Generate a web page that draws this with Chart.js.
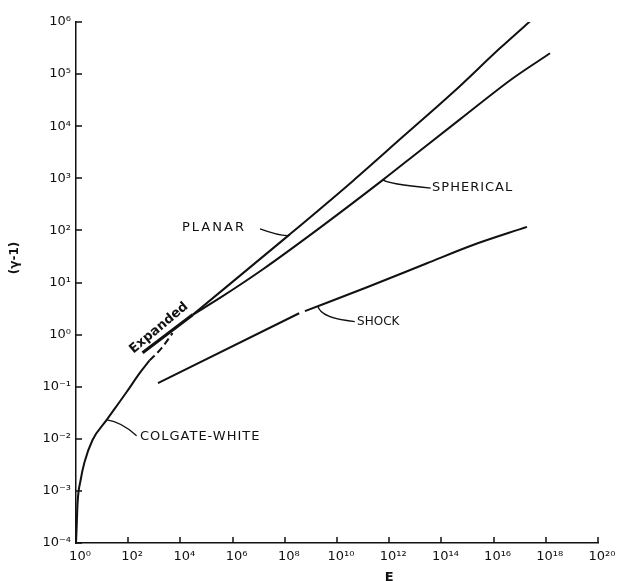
<!DOCTYPE html>
<html>
<head>
<meta charset="utf-8">
<script src="https://cdn.jsdelivr.net/npm/chart.js@4.4.0/dist/chart.umd.min.js"></script>
<style>
  html,body{margin:0;padding:0;background:#fff}
  canvas{display:block}
</style>
</head>
<body>
<canvas id="chart" width="628" height="581"></canvas>
<script>
// axis ticks
const xTicks = [1e0,1e2,1e4,1e6,1e8,1e10,1e12,1e14,1e16,1e18,1e20];
const xTickLabels = ['10⁰','10²','10⁴','10⁶','10⁸','10¹⁰','10¹²','10¹⁴','10¹⁶','10¹⁸','10²⁰'];
const yTicks = [1e-4,1e-3,1e-2,1e-1,1e0,1e1,1e2,1e3,1e4,1e5,1e6];
const yTickLabels = ['10⁻⁴','10⁻³','10⁻²','10⁻¹','10⁰','10¹','10²','10³','10⁴','10⁵','10⁶'];

// curves (E, gamma-1)
const colgateE = [1, 1.05, 1.15, 1.5, 2.1, 4.3, 15, 87, 270, 660];
const colgateG = [1e-4, 1.8e-4, 5.9e-4, 1.6e-3, 3.5e-3, 9.5e-3, 0.023, 0.079, 0.18, 0.32];
const colgateDashE = [660, 1900, 5000];
const colgateDashG = [0.32, 0.55, 1.07];
const expandedE = [355, 2.95e4];
const expandedG = [0.45, 2.4];
const planarE = [2.95e4, 1.51e8, 4.07e10, 3.39e12, 2.82e14, 1.78e16, 3.89e17];
const planarG = [2.4, 83, 891, 6310, 44700, 3.16e5, 1.26e6];
const sphericalE = [2.95e4, 3.16e5, 1.41e7, 2.19e9, 5.75e11, 1.51e13, 5.13e14, 5.5e16, 1.45e18];
const sphericalG = [2.4, 5.01, 17.8, 112, 933, 3390, 13500, 83200, 2.51e5];
const shockE = [1380, 3.55e8, null, 5.9e8, 1.41e11, 2.8e13, 1.62e15, 1.9e17];
const shockG = [0.117, 2.57, null, 2.82, 8.1, 23.4, 52.5, 117];

const pts = (xs, ys) => xs.map((x,i)=>({x:x, y:ys[i]}));

// text labels, anchored in data units
const notes = [
  {text:'PLANAR', e:1.15e4, g:112, size:13, spacing:2},
  {text:'SPHERICAL', e:4.4e13, g:676, size:13, spacing:1},
  {text:'SHOCK', e:5.9e10, g:1.74, size:12, spacing:0},
  {text:'COLGATE-WHITE', e:282, g:0.0112, size:13, spacing:1}
];
// leader lines: from point on curve to label
const leaders = [
  {from:[1.45e8, 80], to:[1.12e7, 107], bend:[-8, 1]},
  {from:[5.75e11, 933], to:[3.9e13, 650], bend:[5, 4]},
  {from:[1.86e9, 3.5], to:[4.8e10, 1.78], bend:[3, 12]},
  {from:[15.5, 0.023], to:[210, 0.0115], bend:[14, 2]}
];

const ink = '#111';

const decorations = {
  id:'decorations',
  afterDatasetsDraw(chart){
    const {ctx, chartArea:a, scales:{x, y}} = chart;
    ctx.save();
    ctx.strokeStyle = ink; ctx.fillStyle = ink;
    // inward tick marks
    ctx.lineWidth = 1.5;
    ctx.beginPath();
    xTicks.forEach(v=>{ const px = Math.round(x.getPixelForValue(v)); ctx.moveTo(px, a.bottom); ctx.lineTo(px, a.bottom-6); });
    yTicks.forEach(v=>{ const py = Math.round(y.getPixelForValue(v)); ctx.moveTo(a.left, py); ctx.lineTo(a.left+6, py); });
    ctx.stroke();

    // leaders
    ctx.lineWidth = 1.3;
    leaders.forEach(l=>{
      const x0 = x.getPixelForValue(l.from[0]), y0 = y.getPixelForValue(l.from[1]);
      const x1 = x.getPixelForValue(l.to[0]), y1 = y.getPixelForValue(l.to[1]);
      ctx.beginPath();
      ctx.moveTo(x0, y0);
      ctx.quadraticCurveTo(x0 + l.bend[0], y0 + l.bend[1], x1, y1);
      ctx.stroke();
    });

    // labels
    ctx.textBaseline = 'middle';
    ctx.textAlign = 'left';
    notes.forEach(n=>{
      ctx.font = n.size + 'px "DejaVu Sans"';
      ctx.letterSpacing = n.spacing + 'px';
      ctx.fillText(n.text, x.getPixelForValue(n.e), y.getPixelForValue(n.g));
    });
    ctx.letterSpacing = '0px';

    // rotated "Expanded"
    ctx.save();
    ctx.translate(x.getPixelForValue(1510), y.getPixelForValue(1.34));
    ctx.rotate(-40 * Math.PI / 180);
    ctx.font = 'bold 13px "DejaVu Sans"';
    ctx.textAlign = 'center';
    ctx.fillText('Expanded', 0, 0);
    ctx.restore();

    // axis titles
    ctx.save();
    ctx.translate(15, y.getPixelForValue(10 ** 1.47));
    ctx.rotate(-Math.PI / 2);
    ctx.font = 'bold 12px "DejaVu Sans"';
    ctx.textAlign = 'center';
    ctx.fillText('(γ-1)', 0, 0);
    ctx.restore();

    ctx.font = 'bold 13px "DejaVu Sans"';
    ctx.textAlign = 'center';
    ctx.textBaseline = 'top';
    ctx.fillText('E', x.getPixelForValue(1e12), 571);
    ctx.restore();
  }
};

const lineStyle = {showLine:true, pointRadius:0, borderColor:ink, borderWidth:2, fill:false, cubicInterpolationMode:'monotone', spanGaps:false};

new Chart(document.getElementById('chart'), {
  type:'scatter',
  data:{
    datasets:[
      Object.assign({label:'Colgate-White', data:pts(colgateE, colgateG)}, lineStyle),
      Object.assign({label:'Colgate-White (dashed)', data:pts(colgateDashE, colgateDashG), borderDash:[7,4]}, lineStyle),
      Object.assign({label:'Expanded', data:pts(expandedE, expandedG)}, lineStyle, {borderWidth:3.2}),
      Object.assign({label:'Planar', data:pts(planarE, planarG)}, lineStyle),
      Object.assign({label:'Spherical', data:pts(sphericalE, sphericalG)}, lineStyle),
      Object.assign({label:'Shock', data:pts(shockE, shockG)}, lineStyle)
    ]
  },
  options:{
    responsive:false,
    animation:false,
    layout:{padding:{top:22, right:30, left:0, bottom:0}},
    plugins:{legend:{display:false}, tooltip:{enabled:false}},
    scales:{
      x:{
        type:'logarithmic', min:1, max:1e20,
        afterBuildTicks:(s)=>{ s.ticks = xTicks.map(v=>({value:v})); },
        afterFit:(s)=>{ s.height = 38; s.paddingLeft = 0; s.paddingRight = 0; },
        grid:{drawOnChartArea:false, drawTicks:false},
        border:{display:true, color:ink, width:1.5},
        ticks:{autoSkip:false, maxRotation:0, padding:6, labelOffset:4, color:ink,
          font:{family:'DejaVu Sans', size:13},
          callback:(v, i)=>xTickLabels[i]}
      },
      y:{
        type:'logarithmic', min:1e-4, max:1e6,
        afterBuildTicks:(s)=>{ s.ticks = yTicks.map(v=>({value:v})); },
        afterFit:(s)=>{ s.width = 76; s.paddingTop = 0; s.paddingBottom = 0; },
        grid:{drawOnChartArea:false, drawTicks:false},
        border:{display:true, color:ink, width:1.5},
        ticks:{autoSkip:false, padding:5, color:ink,
          font:{family:'DejaVu Sans', size:13},
          callback:(v, i)=>yTickLabels[i]}
      }
    }
  },
  plugins:[decorations]
});
</script>
</body>
</html>
